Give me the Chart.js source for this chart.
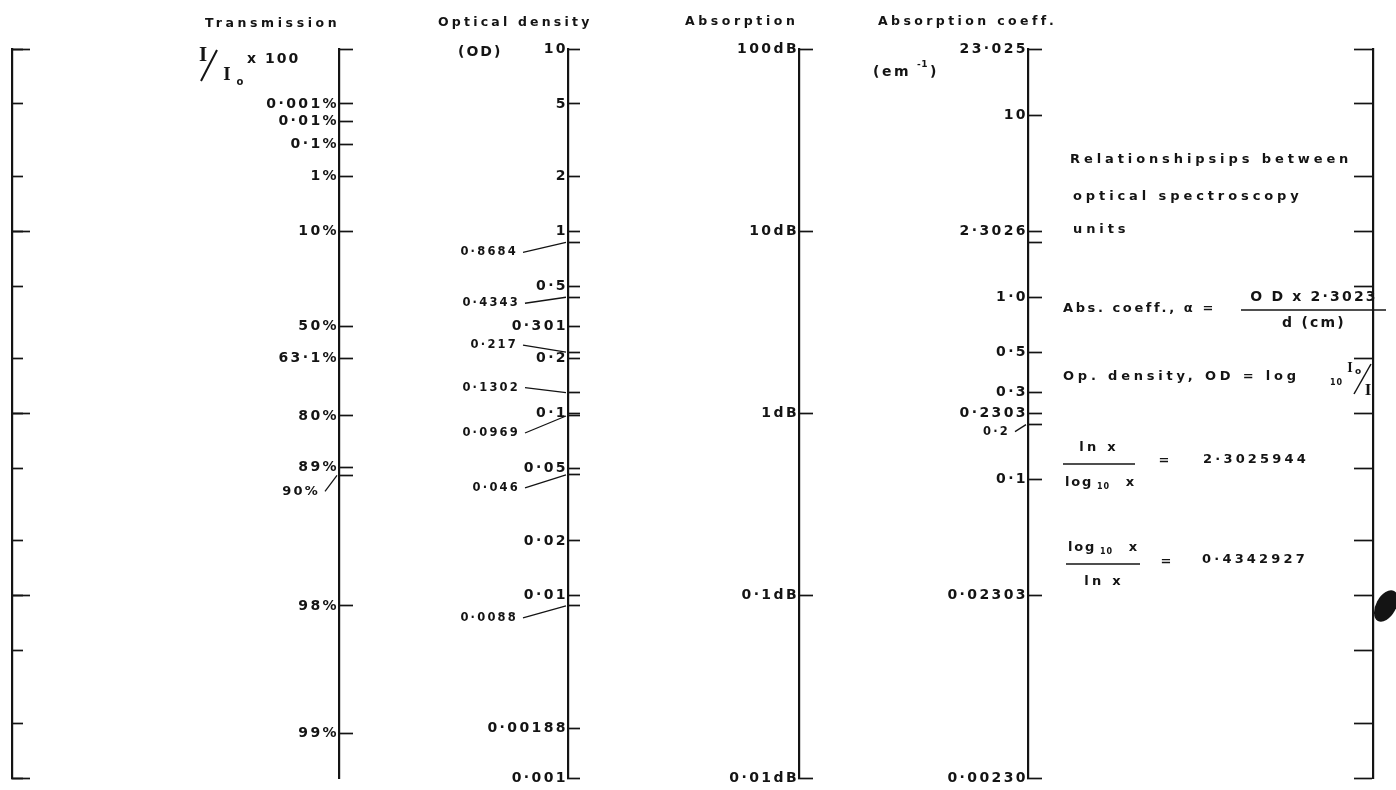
<!DOCTYPE html>
<html>
<head>
<meta charset="utf-8">
<title>Optical spectroscopy units</title>
<script src="https://cdn.jsdelivr.net/npm/chart.js@4.4.1/dist/chart.umd.min.js"></script>
<style>
    html, body { margin: 0; padding: 0; background: #fff; }
    canvas { display: block; }
</style>
</head>
<body>
<canvas id="nomo" width="1396" height="790"></canvas>
<script>
// every column is a log scale; transmission and the two frame brackets use OD units
var bracketTicks = [10, 5, 2, 1, 0.5, 0.2, 0.1, 0.05, 0.02, 0.01, 0.005, 0.002, 0.001];
var bracketMajor = [10, 1, 0.1, 0.01, 0.001];

var transTicks = [10, 5, 4, 3, 2, 1, 0.301, 0.2, 0.0969, 0.0506, 0.0458, 0.0088, 0.00175];
var transLabels = ['', '0·001%', '0·01%', '0·1%', '1%', '10%', '50%', '63·1%', '80%', '89%', '90%', '98%', '99%'];

var odTicks = [10, 5, 2, 1, 0.8684, 0.5, 0.4343, 0.301, 0.217, 0.2, 0.1302, 0.1, 0.0969, 0.05, 0.046, 0.02, 0.01, 0.0088, 0.00188, 0.001];
var odLabels = ['10', '5', '2', '1', '0·8684', '0·5', '0·4343', '0·301', '0·217', '0·2', '0·1302', '0·1', '0·0969', '0·05', '0·046', '0·02', '0·01', '0·0088', '0·00188', '0·001'];

var dbTicks = [100, 10, 1, 0.1, 0.01];
var dbLabels = ['100dB', '10dB', '1dB', '0·1dB', '0·01dB'];

var coeffTicks = [23.025, 10, 2.3026, 2, 1, 0.5, 0.3, 0.2303, 0.2, 0.1, 0.02303, 0.0023025];
var coeffLabels = ['23·025', '10', '2·3026', '', '1·0', '0·5', '0·3', '0·2303', '0·2', '0·1', '0·02303', '0·00230'];

var ink = '#141414';
var sans = '"DejaVu Sans", sans-serif';
var serif = '"Liberation Serif", serif';

// where each column sits (x in page pixels) and how its off-axis labels are placed
var axisX = { yL: 12, yL2: 12, yT: 339, yOD: 568, yAbs: 799, yCo: 1028, yR: 1373 };
var columns = { yT: [transTicks, transLabels], yOD: [odTicks, odLabels], yCo: [coeffTicks, coeffLabels] };
var leaderStyle = {
    yT: { '90%': { dy: 16, gap: 19 } },
    yOD: {
        '0·8684': { dy: 10, gap: 50 },
        '0·4343': { dy: 6, gap: 48 },
        '0·217': { dy: -7, gap: 50 },
        '0·1302': { dy: -5, gap: 48 },
        '0·0969': { dy: 17, gap: 48 },
        '0·046': { dy: 13, gap: 48 },
        '0·0088': { dy: 12, gap: 50 }
    },
    yCo: { '0·2': { dy: 7, gap: 18 } }
};

function column(id, min, max, values, labels, tickLen, showBorder) {
    let lead = leaderStyle[id] || {};
    return {
        type: 'logarithmic',
        axis: 'y',
        position: { x: axisX[id] },
        min: min,
        max: max,
        bounds: 'data',
        afterBuildTicks: (s) => { s.ticks = values.map(v => ({ value: v })); },
        afterFit: (s) => { s.paddingTop = 0; s.paddingBottom = 0; },
        grid: {
            display: true,
            drawOnChartArea: false,
            drawTicks: true,
            tickLength: tickLen,
            tickWidth: 1.7,
            tickColor: ink
        },
        border: { display: showBorder !== false, color: ink, width: 2.2 },
        ticks: {
            autoSkip: false,
            padding: 4 - tickLen,
            color: ink,
            font: { family: sans, size: 14, weight: 'bold' },
            callback: (v, i) => {
                let t = labels ? (labels[i] || '') : '';
                return lead[t] ? '' : t;
            }
        }
    };
}

function put(ctx, str, x, y, font, spacing, align) {
    ctx.save();
    ctx.font = font;
    ctx.letterSpacing = spacing + 'px';
    ctx.textAlign = align || 'left';
    ctx.textBaseline = 'middle';
    ctx.fillStyle = ink;
    ctx.fillText(str, x, y);
    ctx.restore();
}

function rule(ctx, x1, y1, x2, y2, w) {
    ctx.save();
    ctx.strokeStyle = ink;
    ctx.lineWidth = w || 1.2;
    ctx.beginPath();
    ctx.moveTo(x1, y1);
    ctx.lineTo(x2, y2);
    ctx.stroke();
    ctx.restore();
}

var spacing = {
    id: 'spacing',
    beforeDraw: (chart) => { chart.ctx.letterSpacing = '2.4px'; }
};

var notes = {
    id: 'notes',
    afterDraw: (chart) => {
        let ctx = chart.ctx;
        let xs = chart.scales.x;
        let head = 'bold 12.5px ' + sans;
        let body = 'bold 13px ' + sans;

        // column headings
        put(ctx, 'Transmission', 205, 24, head, 3.6);
        put(ctx, 'Optical density', 438, 23, head, 3.2);
        put(ctx, 'Absorption', 685, 22, head, 3.6);
        put(ctx, 'Absorption coeff.', 878, 22, head, 3.4);

        // I/Io x 100
        put(ctx, 'I', 203, 56, 'bold 21px ' + serif, 0, 'center');
        rule(ctx, 201, 81, 217, 50, 2);
        put(ctx, 'I', 227, 75, 'bold 19px ' + serif, 0, 'center');
        put(ctx, 'o', 240, 82, 'bold 10px ' + sans, 0, 'center');
        put(ctx, 'x 100', 247, 59, 'bold 14px ' + sans, 2);
        put(ctx, '(OD)', 458, 52, 'bold 14px ' + sans, 2);
        put(ctx, '(em', 873, 72, 'bold 14px ' + sans, 2.5);
        put(ctx, '-1', 917, 65, 'bold 9px ' + sans, 0.5);
        put(ctx, ')', 930, 72, 'bold 14px ' + sans, 0);

        // labels set off the axis with a leader line
        Object.keys(leaderStyle).forEach(id => {
            let scale = chart.scales[id];
            let ax = xs.getPixelForValue(axisX[id]);
            let values = columns[id][0];
            let labels = columns[id][1];
            Object.keys(leaderStyle[id]).forEach(t => {
                let st = leaderStyle[id][t];
                let y = scale.getPixelForValue(values[labels.indexOf(t)]);
                let small = id === 'yT' ? 'bold 13px ' + sans : 'bold 11.5px ' + sans;
                put(ctx, t, ax - st.gap, y + st.dy, small, 2.2, 'right');
                rule(ctx, ax - st.gap + 5, y + st.dy, ax - 2, y, 1.3);
            });
        });

        // relationships block
        put(ctx, 'Relationshipsips between', 1070, 160, body, 3.9);
        put(ctx, 'optical spectroscopy', 1073, 197, body, 3.9);
        put(ctx, 'units', 1073, 230, body, 3.9);

        put(ctx, 'Abs. coeff., α =', 1063, 309, body, 2.6);
        put(ctx, 'O D x 2·3023', 1314, 297, 'bold 14px ' + sans, 2.2, 'center');
        rule(ctx, 1241, 310, 1386, 310, 1.3);
        put(ctx, 'd (cm)', 1314, 323, 'bold 14px ' + sans, 2.2, 'center');

        put(ctx, 'Op. density, OD = log', 1063, 377, body, 3.8);
        put(ctx, '10', 1330, 383, 'bold 8px ' + sans, 1);
        put(ctx, 'I', 1350, 368, 'bold 14px ' + serif, 0, 'center');
        put(ctx, 'o', 1358, 372, 'bold 9px ' + sans, 0, 'center');
        rule(ctx, 1354, 394, 1371, 364, 1.5);
        put(ctx, 'I', 1368, 391, 'bold 17px ' + serif, 0, 'center');

        put(ctx, 'ln x', 1099, 448, body, 3.2, 'center');
        rule(ctx, 1063, 464, 1135, 464, 1.3);
        put(ctx, 'log', 1065, 483, body, 1.8);
        put(ctx, '10', 1097, 487, 'bold 8px ' + sans, 1);
        put(ctx, 'x', 1130, 483, body, 0, 'center');
        put(ctx, '=', 1164, 461, body, 0, 'center');
        put(ctx, '2·3025944', 1203, 460, body, 3.2);

        put(ctx, 'log', 1068, 548, body, 1.8);
        put(ctx, '10', 1100, 552, 'bold 8px ' + sans, 1);
        put(ctx, 'x', 1133, 548, body, 0, 'center');
        rule(ctx, 1066, 564, 1140, 564, 1.3);
        put(ctx, 'ln x', 1104, 582, body, 3.2, 'center');
        put(ctx, '=', 1166, 562, body, 0, 'center');
        put(ctx, '0·4342927', 1202, 560, body, 3.2);

        // ink blot on the right edge of the scan
        ctx.save();
        ctx.fillStyle = ink;
        ctx.beginPath();
        ctx.ellipse(1386, 606, 10, 17, 0.5, 0, Math.PI * 2);
        ctx.fill();
        ctx.restore();
    }
};

new Chart(document.getElementById('nomo'), {
    type: 'scatter',
    data: { datasets: [] },
    options: {
        responsive: false,
        animation: false,
        devicePixelRatio: 1,
        events: [],
        layout: { padding: { top: 49, bottom: 12, left: 0, right: 0 } },
        plugins: {
            legend: { display: false },
            tooltip: { enabled: false }
        },
        scales: {
            x: { type: 'linear', min: 0, max: 1396, display: false },
            yL: column('yL', 0.001, 10, bracketTicks, null, -12),
            yL2: column('yL2', 0.001, 10, bracketMajor, null, -18, false),
            yT: column('yT', 0.001, 10, transTicks, transLabels, -15),
            yOD: column('yOD', 0.001, 10, odTicks, odLabels, -13),
            yAbs: column('yAbs', 0.01, 100, dbTicks, dbLabels, -15),
            yCo: column('yCo', 0.0023025, 23.025, coeffTicks, coeffLabels, -15),
            yR: column('yR', 0.001, 10, bracketTicks, null, 18)
        }
    },
    plugins: [spacing, notes]
});
</script>
</body>
</html>
